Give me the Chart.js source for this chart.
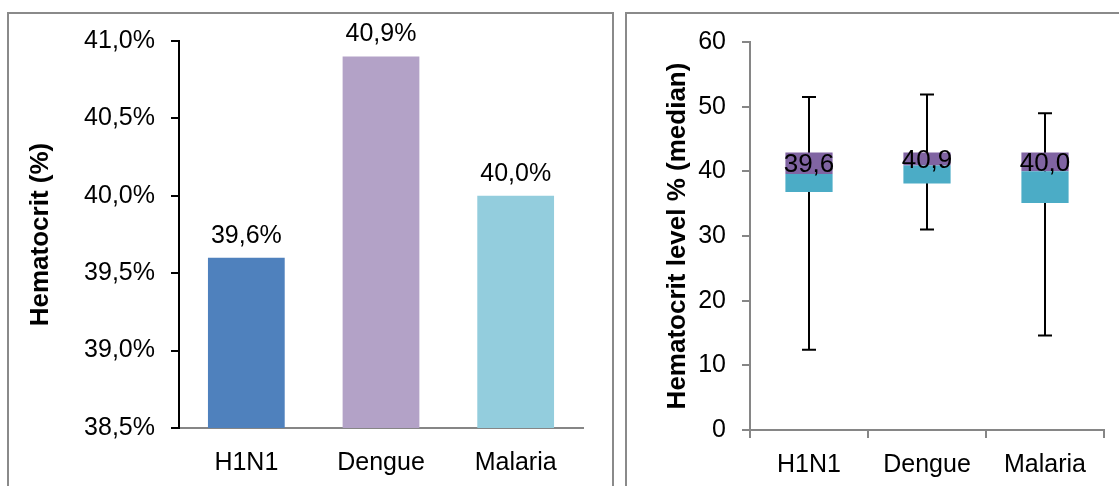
<!DOCTYPE html>
<html>
<head>
<meta charset="utf-8">
<script src="https://cdn.jsdelivr.net/npm/chart.js@4/dist/chart.umd.min.js"></script>
<style>
  html, body { margin: 0; padding: 0; background: #fff; overflow: hidden; }
  body { width: 1119px; height: 486px; position: relative; font-family: "Liberation Sans", Arial, sans-serif; }
  .panel { position: absolute; box-sizing: border-box; border: 2px solid #8a8a8a; border-bottom: none; }
  #panelLeft { left: 7px; top: 12px; width: 607px; height: 480px; }
  #panelRight { left: 625px; top: 12px; width: 520px; height: 480px; border-right: none; }
  canvas { position: absolute; top: 0; }
  #barChart { left: 0; }
  #boxChart { left: 620px; }
</style>
</head>
<body>
<div class="panel" id="panelLeft"></div>
<div class="panel" id="panelRight"></div>
<canvas id="barChart" width="612" height="486"></canvas>
<canvas id="boxChart" width="499" height="486"></canvas>
<script>
// Groups shown on both charts
const categories = ['H1N1', 'Dengue', 'Malaria'];

// Left chart: mean hematocrit (%)
const meanHematocrit = [39.6, 40.9, 40.0];
const barColors = ['#4f81bd', '#b3a2c7', '#93cddd'];

// Right chart: hematocrit level distribution
const medians = [39.6, 40.9, 40.0];
const q1Values = [36.8, 38.1, 35.1];
const q3Values = [42.9, 42.9, 42.9];
const minValues = [12.4, 31.0, 14.6];
const maxValues = [51.5, 51.9, 49.0];

const FONT = '"Liberation Sans", Arial, sans-serif';
const AXIS_GREY = '#868686';

const fmtComma = (v, d) => v.toFixed(d).replace('.', ',');

// Value labels above the bars
const barLabels = {
  id: 'barLabels',
  afterDatasetsDraw(chart) {
    const ctx = chart.ctx;
    const meta = chart.getDatasetMeta(0);
    ctx.save();
    ctx.font = '25px ' + FONT;
    ctx.fillStyle = '#000';
    ctx.textAlign = 'center';
    ctx.textBaseline = 'middle';
    meta.data.forEach((bar, i) => {
      ctx.fillText(fmtComma(meanHematocrit[i], 1) + '%', bar.x, bar.y - 22);
    });
    ctx.restore();
  }
};

// Whiskers (min to max) behind the boxes
const whiskers = {
  id: 'whiskers',
  beforeDatasetsDraw(chart) {
    const ctx = chart.ctx;
    const x = chart.scales.x, y = chart.scales.y;
    ctx.save();
    ctx.strokeStyle = '#000';
    ctx.lineWidth = 2;
    categories.forEach((c, i) => {
      const px = Math.round(x.getPixelForValue(i));
      const top = y.getPixelForValue(maxValues[i]);
      const bot = y.getPixelForValue(minValues[i]);
      ctx.beginPath();
      ctx.moveTo(px, top); ctx.lineTo(px, bot);
      ctx.moveTo(px - 7, top); ctx.lineTo(px + 7, top);
      ctx.moveTo(px - 7, bot); ctx.lineTo(px + 7, bot);
      ctx.stroke();
    });
    ctx.restore();
  }
};

// Median value written in the upper part of each box
const medianLabels = {
  id: 'medianLabels',
  afterDatasetsDraw(chart) {
    const ctx = chart.ctx;
    const x = chart.scales.x, y = chart.scales.y;
    ctx.save();
    ctx.font = '26px ' + FONT;
    ctx.fillStyle = '#000';
    ctx.textAlign = 'center';
    ctx.textBaseline = 'middle';
    categories.forEach((c, i) => {
      const px = x.getPixelForValue(i);
      const py = (y.getPixelForValue(medians[i]) + y.getPixelForValue(q3Values[i])) / 2;
      ctx.fillText(fmtComma(medians[i], 1), px, py + 2);
    });
    ctx.restore();
  }
};

Chart.defaults.font.family = FONT;
Chart.defaults.color = '#000';

new Chart(document.getElementById('barChart'), {
  type: 'bar',
  data: {
    labels: categories,
    datasets: [{
      data: meanHematocrit,
      backgroundColor: barColors,
      borderWidth: 0,
      categoryPercentage: 1,
      barPercentage: 0.57
    }]
  },
  options: {
    responsive: false,
    animation: false,
    events: [],
    layout: { padding: { left: 0, right: 29, top: 41, bottom: 0 } },
    plugins: { legend: { display: false }, tooltip: { enabled: false } },
    scales: {
      x: {
        grid: { drawOnChartArea: false, drawTicks: false, color: AXIS_GREY },
        border: { display: true, color: AXIS_GREY, width: 2 },
        ticks: { font: { size: 25 }, color: '#000', padding: 20 },
        afterFit(scale) { scale.height = 58; }
      },
      y: {
        min: 38.5, max: 41,
        ticks: { stepSize: 0.5, font: { size: 25 }, color: '#000', padding: 16,
                 callback: v => fmtComma(v, 1) + '%' },
        grid: { drawOnChartArea: false, drawTicks: true, tickLength: 8, color: '#000', lineWidth: 2 },
        border: { display: true, color: '#000', width: 2 },
        title: { display: true, text: 'Hematocrit (%)', color: '#000',
                 font: { size: 26, weight: 'bold' }, padding: { top: 25, bottom: 0 } },
        afterFit(scale) { scale.width = 179; }
      }
    }
  },
  plugins: [barLabels]
});

new Chart(document.getElementById('boxChart'), {
  type: 'bar',
  data: {
    labels: categories,
    datasets: [
      { label: 'Q1 – median', data: q1Values.map((v, i) => [v, medians[i]]),
        backgroundColor: '#4bacc6', borderWidth: 0, categoryPercentage: 1, barPercentage: 0.4 },
      { label: 'median – Q3', data: medians.map((v, i) => [v, q3Values[i]]),
        backgroundColor: '#8064a2', borderWidth: 0, categoryPercentage: 1, barPercentage: 0.4 }
    ]
  },
  options: {
    responsive: false,
    animation: false,
    events: [],
    layout: { padding: { left: 0, right: 15, top: 42, bottom: 0 } },
    plugins: { legend: { display: false }, tooltip: { enabled: false } },
    scales: {
      x: {
        stacked: true,
        grid: { drawOnChartArea: false, drawTicks: true, tickLength: 8, color: AXIS_GREY, lineWidth: 2, offset: true },
        border: { display: true, color: AXIS_GREY, width: 2 },
        ticks: { font: { size: 25 }, color: '#000', padding: 12 },
        afterFit(scale) { scale.height = 56; }
      },
      y: {
        stacked: false,
        min: 0, max: 60,
        ticks: { stepSize: 10, font: { size: 25 }, color: '#000', padding: 16 },
        grid: { drawOnChartArea: false, drawTicks: true, tickLength: 8, color: AXIS_GREY, lineWidth: 2 },
        border: { display: true, color: AXIS_GREY, width: 2 },
        title: { display: true, text: 'Hematocrit level % (median)', color: '#000',
                 font: { size: 26, weight: 'bold' }, padding: { top: 42, bottom: 0 } },
        afterFit(scale) { scale.width = 130; }
      }
    }
  },
  plugins: [whiskers, medianLabels]
});
</script>
</body>
</html>
